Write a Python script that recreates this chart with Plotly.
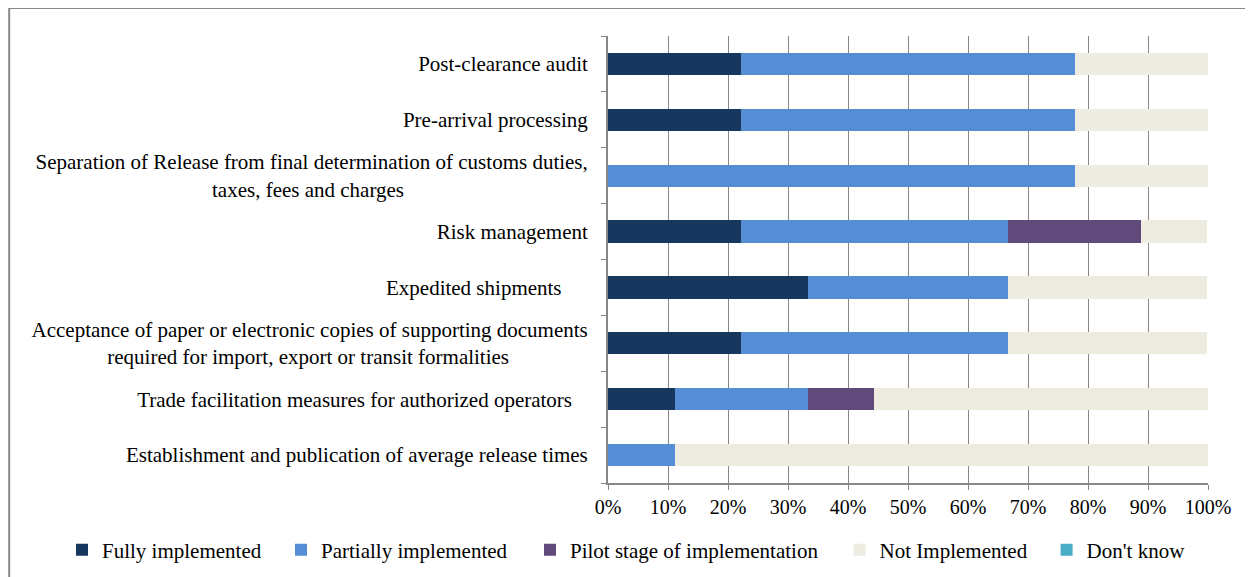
import plotly.graph_objects as go

PAD = "\u00a0"

# categories, bottom to top (trailing non-breaking spaces keep the
# original label alignment)
measures = [
    "Establishment and publication of average release times",
    "Trade facilitation measures for authorized operators" + PAD * 3,
    "Acceptance of paper or electronic copies of supporting documents<br>"
    "required for import, export or transit formalities" + PAD * 15,
    "Expedited shipments" + PAD * 5,
    "Risk management",
    "Separation of Release from final determination of customs duties,<br>"
    "taxes, fees and charges" + PAD * 35,
    "Pre-arrival processing",
    "Post-clearance audit",
]

fully     = [0.0, 11.1, 22.2, 33.3, 22.2, 0.0, 22.2, 22.2]
partially = [11.1, 22.2, 44.4, 33.3, 44.4, 77.8, 55.6, 55.6]
pilot     = [0.0, 11.1, 0.0, 0.0, 22.2, 0.0, 0.0, 0.0]
not_impl  = [88.9, 55.6, 33.3, 33.3, 11.1, 22.2, 22.2, 22.2]
dont_know = [0.0, 0.0, 0.0, 0.0, 0.0, 0.0, 0.0, 0.0]

x_ticks = [0, 10, 20, 30, 40, 50, 60, 70, 80, 90, 100]

# name, values, colour, legend key, legend x (paper)
series = [
    ("Fully implemented", fully, "#17375E", "legend", -0.91),
    ("Partially implemented", partially, "#558ED5", "legend2", -0.545),
    ("Pilot stage of implementation", pilot, "#604A7B", "legend3", -0.13),
    ("Not Implemented", not_impl, "#EEECE1", "legend4", 0.386),
    ("Don't know", dont_know, "#4BACC6", "legend5", 0.731),
]

FONT = "Liberation Serif, Times New Roman, serif"
GRID = "#868686"

fig = go.Figure()
legends = {}
for name, vals, color, leg, lx in series:
    fig.add_trace(go.Bar(
        y=measures,
        x=vals,
        name=name,
        orientation="h",
        legend=leg,
        showlegend=True,
        marker=dict(color=color, line=dict(width=0)),
    ))
    legends[leg] = dict(
        orientation="h",
        x=lx,
        xanchor="left",
        y=-0.15,
        yanchor="middle",
        font=dict(size=21),
        bgcolor="rgba(0,0,0,0)",
    )

fig.update_layout(
    barmode="stack",
    bargap=0.6,
    showlegend=True,
    width=1253,
    height=577,
    paper_bgcolor="white",
    plot_bgcolor="white",
    font=dict(family=FONT, size=21, color="black"),
    margin=dict(l=600, r=53, t=28, b=102),
    xaxis=dict(
        range=[0, 100],
        tickvals=x_ticks,
        ticktext=[f"{v}%" for v in x_ticks],
        tickfont=dict(size=20),
        showgrid=True,
        gridcolor=GRID,
        gridwidth=1,
        showline=True,
        linecolor=GRID,
        linewidth=2,
        ticks="outside",
        ticklen=5,
        tickcolor=GRID,
        zeroline=False,
    ),
    yaxis=dict(
        showline=True,
        linecolor=GRID,
        linewidth=2,
        ticks="outside",
        tickson="boundaries",
        ticklen=5,
        tickcolor=GRID,
        ticklabelstandoff=14,
        showgrid=False,
    ),
    shapes=[dict(
        type="rect",
        xref="paper", yref="paper",
        x0=-0.998, x1=1.0717, y0=-0.24, y1=1.0626,
        line=dict(color="#878787", width=2),
        fillcolor="rgba(0,0,0,0)",
        layer="below",
    )],
    **legends,
)

fig.write_html("out.html")
